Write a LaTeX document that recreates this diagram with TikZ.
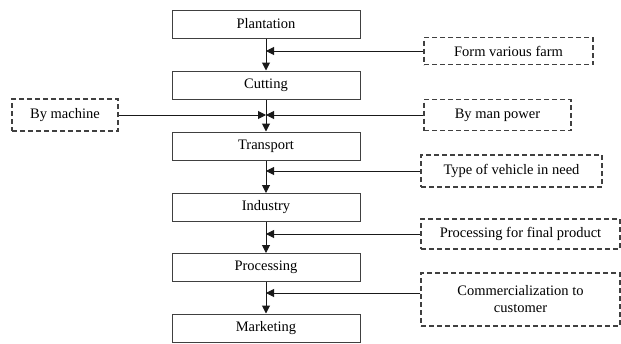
\documentclass[tikz,border=0pt]{standalone}
\usepackage{fontspec}
\setmainfont{Liberation Serif}
\usetikzlibrary{arrows.meta}

\begin{document}
\begin{tikzpicture}[x=1pt,y=-1pt,
    stage/.style={draw=black!75,line width=1pt,minimum width=188pt,minimum height=28pt,inner sep=0pt,font=\fontsize{14.5}{16}\selectfont},
    source/.style={draw=black!75,line width=1.3pt,dash pattern=on 5pt off 3pt,inner sep=0pt,align=center,font=\fontsize{14.5}{17}\selectfont},
    flow/.style={-{Triangle[length=8pt,width=8pt]},line width=1pt,black!90}]
\useasboundingbox (0,0) rectangle (621,343);

\node[stage] (plant) at (266,24) {Plantation};
\node[stage] (cut) at (266,85) {Cutting};
\node[stage] (trans) at (266,146) {Transport};
\node[stage] (indus) at (266,207.5) {Industry};
\node[stage] (proc) at (266,267.5) {Processing};
\node[stage] (market) at (266,328) {Marketing};

\node[source,minimum width=169pt,minimum height=27pt] (farm) at (508.5,51) {Form various farm};
\node[source,minimum width=106pt,minimum height=32pt] (machine) at (65,115) {By machine};
\node[source,minimum width=147pt,minimum height=31pt] (man) at (497.5,115) {By man power};
\node[source,minimum width=181pt,minimum height=32pt] (vehicle) at (511.5,171) {Type of vehicle in need};
\node[source,minimum width=199pt,minimum height=30pt] (product) at (520.5,234) {Processing for final product};
\node[source,minimum width=199pt,minimum height=53pt] (comm) at (520.5,299.5) {Commercialization to\\customer};

\draw[flow] (plant) -- (cut);
\draw[flow] (cut) -- (trans);
\draw[flow] (trans) -- (indus);
\draw[flow] (indus) -- (proc);
\draw[flow] (proc) -- (market);

\draw[flow] (farm.west) -- (farm.west -| plant.south);
\draw[flow] (machine.east) -- (machine.east -| cut.south);
\draw[flow] (man.west) -- (man.west -| cut.south);
\draw[flow] (vehicle.west) -- (vehicle.west -| trans.south);
\draw[flow] (product.west) -- (product.west -| indus.south);
\draw[flow] ([yshift=6.5pt]comm.west) -- ([yshift=6.5pt]comm.west -| proc.south);
\end{tikzpicture}
\end{document}
